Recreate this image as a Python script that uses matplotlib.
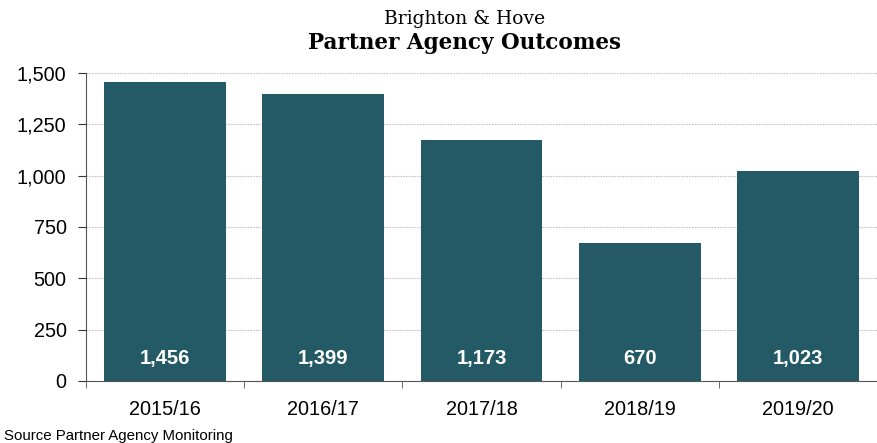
import matplotlib
matplotlib.use("Agg")
import matplotlib.pyplot as plt
from matplotlib.ticker import FuncFormatter

years = ["2015/16", "2016/17", "2017/18", "2018/19", "2019/20"]
outcomes = [1456, 1399, 1173, 670, 1023]
yticks = [0, 250, 500, 750, 1000, 1250, 1500]

bar_color = "#245a66"
plt.rcParams["font.family"] = ["Liberation Sans", "DejaVu Sans"]

fig = plt.figure(figsize=(8.77, 4.43), dpi=100)
ax = fig.add_axes([86/877, 62/443, 791/877, 308/443])

x = range(len(years))
ax.bar(x, outcomes, width=0.77, color=bar_color, zorder=3)
for i, v in enumerate(outcomes):
    ax.text(i, 112, "{:,}".format(v), ha="center", va="center", color="white",
            fontsize=14.5, fontweight="bold", zorder=4)

ax.set_ylim(0, 1500)
ax.set_xlim(-0.5, 4.5 - 9/161)
ax.set_yticks(yticks)
ax.yaxis.set_major_formatter(FuncFormatter(lambda v, p: "{:,}".format(int(v))))
ax.set_xticks(list(x))
ax.set_xticklabels(years)
ax.set_xticks([i + 0.5 for i in range(-1, len(years))], minor=True)
ax.tick_params(axis="x", which="major", length=0, labelsize=14.3, pad=14)
ax.tick_params(axis="x", which="minor", length=5, color="#555555", direction="out")
ax.tick_params(axis="y", length=6, color="#333333", labelsize=14.3, pad=8)

ax.grid(axis="y", linestyle=(0, (1.5, 1)), color="#c4c4c4", linewidth=0.8, zorder=0)
for s in ["top", "right"]:
    ax.spines[s].set_visible(False)
ax.spines["left"].set_color("#555555")
ax.spines["bottom"].set_color("#555555")

fig.text(0.530, 0.957, "Brighton & Hove", ha="center", va="center",
         family="DejaVu Serif", fontsize=13.5)
fig.text(0.530, 0.902, "Partner Agency Outcomes", ha="center", va="center",
         family="DejaVu Serif", fontsize=15.5, fontweight="bold")
fig.text(0.004, 0.015, "Source Partner Agency Monitoring", ha="left", va="center",
         fontsize=10.8)

fig.savefig("out.png", dpi=100)
